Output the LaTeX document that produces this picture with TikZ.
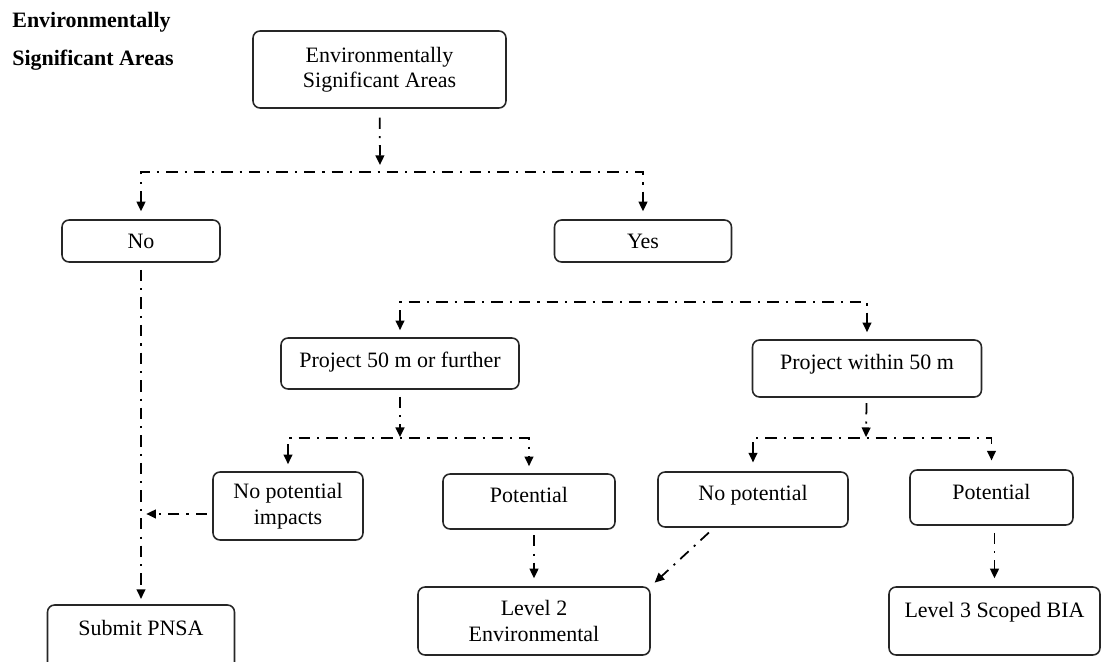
\documentclass[tikz,border=0pt]{standalone}
\usepackage{fontspec}
\setmainfont{Liberation Serif}
\usetikzlibrary{arrows.meta}

\tikzset{
    box/.style={draw=black!85, line width=0.9pt, rounded corners=4pt, align=center,
                inner sep=2pt, font=\fontsize{12.5}{14.5}\selectfont},
    lift/.style={text height=9pt, text depth=#1},
    flow/.style={line width=1pt, dash pattern=on 6.5pt off 4pt on 1.2pt off 4pt,
                 -{Triangle[width=5pt,length=5.5pt]}},
    fork/.style={flow, {Triangle[width=5pt,length=5.5pt]}-{Triangle[width=5pt,length=5.5pt]}},
}

\begin{document}
\begin{tikzpicture}[x=0.02cm, y=-0.02cm]
                \useasboundingbox (0,0) rectangle (1102,662);
                \node[anchor=base west, inner sep=0pt, font=\fontsize{12.5}{14.5}\selectfont\bfseries] (head1) at (12,28) {Environmentally};
                \node[anchor=base west, inner sep=0pt, font=\fontsize{12.5}{14.5}\selectfont\bfseries] (head2) at (12,66) {Significant Areas};

                \node[box, minimum width=5.06cm, minimum height=1.54cm] (esa) at (379.5,69.5) {Environmentally\\Significant Areas};
                \node[box, lift=1pt, minimum width=3.16cm, minimum height=0.84cm] (no) at (141,241) {No};
                \node[box, lift=1pt, minimum width=3.54cm, minimum height=0.84cm] (yes) at (643,241) {Yes};
                \node[box, lift=5pt, minimum width=4.76cm, minimum height=1.02cm] (p50) at (400,363.5) {Project 50 m or further};
                \node[box, lift=8.4pt, minimum width=4.58cm, minimum height=1.14cm] (pwithin) at (867,368.5) {Project within 50 m};
                \node[box, minimum width=3.0cm, minimum height=1.36cm] (npi) at (288,506) {No potential\\impacts};
                \node[box, lift=8.4pt, minimum width=3.44cm, minimum height=1.1cm] (potl) at (529,501.5) {Potential};
                \node[box, lift=8.4pt, minimum width=3.8cm, minimum height=1.1cm] (nopot) at (753,499.5) {No potential};
                \node[box, lift=7.2pt, minimum width=3.26cm, minimum height=1.1cm] (potr) at (991.5,497.5) {Potential};
                \node[box, minimum width=4.64cm, minimum height=1.36cm] (lev2) at (534,621) {Level 2\\Environmental};
                \node[box, lift=13.4pt, minimum width=4.22cm, minimum height=1.36cm] (lev3) at (994.5,621) {Level 3 Scoped BIA};
                \node[box, lift=13.4pt, minimum width=3.74cm, minimum height=1.36cm] (submit) at (141,639) {Submit PNSA};

                % splits
                \coordinate (s1) at (380,172);
                \coordinate (s2) at (634,302);
                \coordinate (s3) at (400,438);
                \coordinate (s4) at (866,438);

                \draw[flow, shorten <=5pt, shorten >=4pt] (esa) -- (s1);
                \draw[fork, shorten <=4.5pt, shorten >=4.5pt] (no.north) |- (s1) -| (yes.north);
                \draw[fork, shorten <=4pt, shorten >=4pt] (p50.north) |- (s2) -| (pwithin.north);
                \draw[flow, shorten <=4pt, shorten >=0.5pt] (p50) -- (s3);
                \draw[fork, shorten <=4pt, shorten >=4pt] (npi.north) |- (s3) -| (potl.north);
                \draw[flow, shorten <=3pt, shorten >=0.5pt] (pwithin) -- (s4);
                \draw[fork, shorten <=5pt, shorten >=5pt] (nopot.north) |- (s4) -| (potr.north);

                \draw[flow, shorten <=4pt, shorten >=3pt] (no) -- (submit);
                \draw[flow, shorten <=3pt, shorten >=3pt] (npi.186) -- (npi.186 -| no.south);
                \draw[flow, shorten <=3pt, shorten >=4.5pt] (lev2.north |- potl.south) -- (lev2.north);
                \draw[flow, shorten <=4pt, shorten >=3pt] (nopot.216) -- (lev2.north east);
                \draw[flow, shorten <=4pt, shorten >=4.5pt] (lev3.north |- potr.south) -- (lev3.north);
            \end{tikzpicture}
\end{document}
